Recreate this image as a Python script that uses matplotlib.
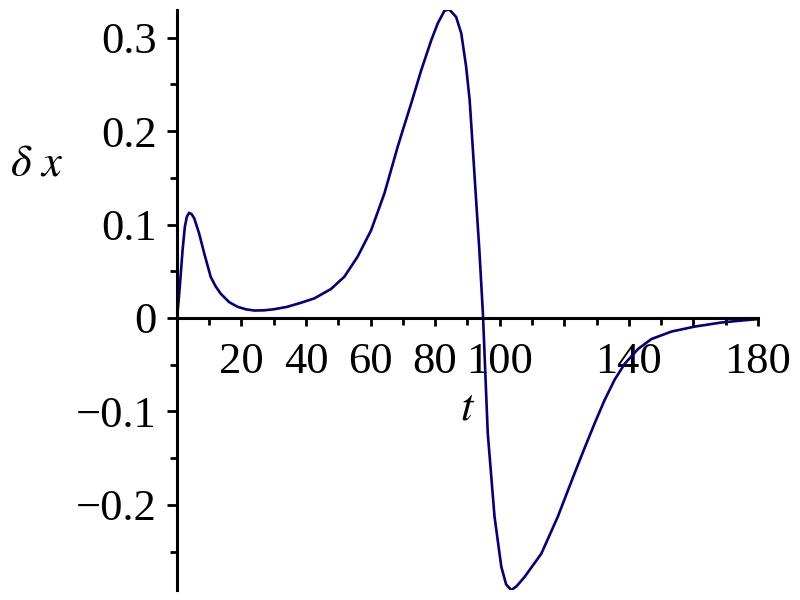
import matplotlib
matplotlib.use("Agg")
import matplotlib.pyplot as plt
from matplotlib.ticker import MultipleLocator, FixedLocator

t = [0, 0.2, 0.6, 1.0, 1.4, 1.8, 2.5, 3.1, 3.8, 4.6, 5.4, 6.9, 8.5, 10.5, 12.0, 13.6,
     16.2, 18.8, 21.5, 24, 27, 30, 34, 38, 42.6, 47.75, 51.9, 56.0, 60.2, 64.3, 68.4,
     70.0, 72.6, 75.7, 78.8, 80.8, 82.9, 84.4, 86.5, 88.1, 89.6, 90.7, 91.7, 92.7,
     93.7, 94.8, 96.3, 98.4, 100.5, 102, 103.6, 105.2, 107.7, 112.9, 118, 123.2,
     126.3, 129.4, 132.5, 135.6, 138.7, 142.9, 147.0, 153.2, 160.4, 168.7, 174, 180]
dx = [0, 0.005, 0.02, 0.037, 0.055, 0.073, 0.0977, 0.108, 0.1126, 0.111, 0.1066,
      0.0906, 0.069, 0.044, 0.034, 0.026, 0.017, 0.0120, 0.0092, 0.0080, 0.0082,
      0.0093, 0.0118, 0.0158, 0.021, 0.031, 0.0442, 0.0656, 0.094, 0.1333, 0.183,
      0.201, 0.2296, 0.265, 0.297, 0.315, 0.3287, 0.330, 0.322, 0.3045, 0.269, 0.233,
      0.180, 0.126, 0.0727, 0.005, -0.123, -0.2125, -0.266, -0.285, -0.291, -0.287,
      -0.277, -0.252, -0.2125, -0.166, -0.139, -0.1127, -0.0877, -0.066, -0.049,
      -0.033, -0.0225, -0.0145, -0.0092, -0.0048, -0.003, -0.0012]

x_ticks = [20, 40, 60, 80, 100, 120, 140, 160, 180]
x_tick_labels = ["20", "40", "60", "80", "100", "", "140", "", "180"]
y_ticks = [-0.2, -0.1, 0, 0.1, 0.2, 0.3]
y_tick_labels = ["\u22120.2", "\u22120.1", "0", "0.1", "0.2", "0.3"]

plt.rcParams['font.family'] = ['Liberation Serif', 'DejaVu Serif']

fig = plt.figure(figsize=(8, 6), dpi=100)
ax = fig.add_axes([0.221, 0.0167, 0.7265, 0.9666])
ax.plot(t, dx, color='#000080', lw=1.9, solid_joinstyle='round')

ax.set_xlim(0, 180)
ax.set_ylim(-0.2909, 0.3294)

for s in ['top', 'right']:
    ax.spines[s].set_visible(False)
ax.spines['bottom'].set_position(('data', 0))
ax.spines['left'].set_position(('data', 0))
ax.spines['bottom'].set_linewidth(2.2)
ax.spines['left'].set_linewidth(2.2)

ax.xaxis.set_major_locator(FixedLocator(x_ticks))
ax.set_xticklabels(x_tick_labels)
ax.xaxis.set_minor_locator(MultipleLocator(10))
ax.yaxis.set_major_locator(FixedLocator(y_ticks))
ax.set_yticklabels(y_tick_labels)
ax.yaxis.set_minor_locator(MultipleLocator(0.05))

ax.tick_params(axis='x', which='major', direction='out', length=6, width=2, pad=11, labelsize=32)
ax.tick_params(axis='x', which='minor', direction='out', length=5, width=2)
ax.tick_params(axis='y', which='major', direction='out', length=7.5, width=2, pad=7, labelsize=32)
ax.tick_params(axis='y', which='minor', direction='out', length=5, width=2)

fig.text(37/800, 1 - 165/600, r"$\delta\ x$", fontsize=32, ha='center', va='center',
         math_fontfamily='stix')
fig.text(468/800, 1 - 408/600, r"$t$", fontsize=32, ha='center', va='center',
         math_fontfamily='stix')

fig.savefig("out.png", dpi=100)
